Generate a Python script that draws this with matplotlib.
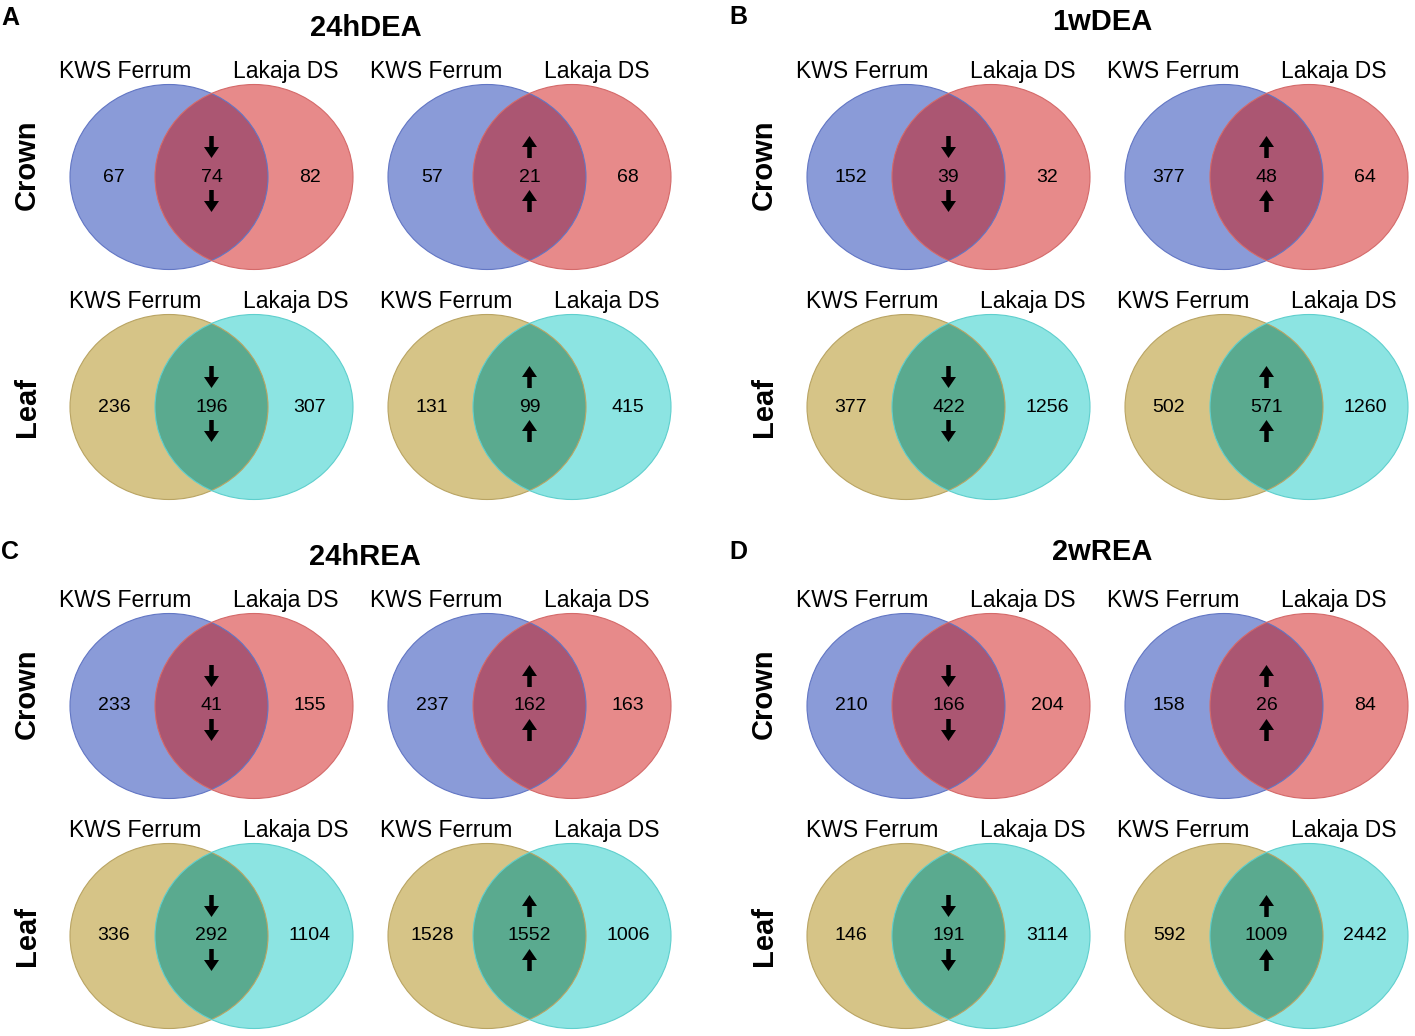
import matplotlib
matplotlib.use('Agg')
import matplotlib.pyplot as plt
from matplotlib.patches import Ellipse

plt.rcParams['font.family'] = ['Liberation Sans', 'DejaVu Sans']

# data
titles = ['24hDEA', '1wDEA', '24hREA', '2wREA']
letters = ['A', 'B', 'C', 'D']
rows = ['Crown', 'Leaf']
sets = ['KWS Ferrum', 'Lakaja DS']
# per panel: [only KWS, both, only Lakaja]
crown_down = [[67, 74, 82], [152, 39, 32], [233, 41, 155], [210, 166, 204]]
crown_up = [[57, 21, 68], [377, 48, 64], [237, 162, 163], [158, 26, 84]]
leaf_down = [[236, 196, 307], [377, 422, 1256], [336, 292, 1104], [146, 191, 3114]]
leaf_up = [[131, 99, 415], [502, 571, 1260], [1528, 1552, 1006], [592, 1009, 2442]]

# colours: left fill, right fill, overlap, left edge, right edge
crown_cols = ['#8a9bd8', '#e78a8a', '#ab5672', '#6276c4', '#d46a6a']
leaf_cols = ['#d6c487', '#8ce4e2', '#5aaa8f', '#b9a463', '#5fcfcd']

fig = plt.figure(figsize=(14.15, 10.36), dpi=100)
ax = fig.add_axes([0, 0, 1, 1])
ax.set_xlim(0, 1415)
ax.set_ylim(1036, 0)
ax.axis('off')

panel_off = [(0, 0), (737, 0), (0, 529), (737, 529)]
title_pos = [(366, 28), (1102, 22), (365, 557), (1102, 552)]
letter_pos = [(10, 18), (738, 17), (10, 552), (738, 552)]
W, H, D = 198, 185, 85


def arrow(x, y, up):
    # y is the arrow tail; head points up or down
    L = 22
    dy = -L if up else L
    ax.arrow(x, y, 0, dy, width=4.5, head_width=15, head_length=11,
             length_includes_head=True, color='black', lw=0)


def venn(cx, cy, vals, cols, up, lab_dx):
    left = Ellipse((cx, cy), W, H, facecolor=cols[0], edgecolor='none')
    right = Ellipse((cx + D, cy), W, H, facecolor=cols[1], edgecolor='none')
    ax.add_patch(left)
    ax.add_patch(right)
    ov = Ellipse((cx + D, cy), W, H, facecolor=cols[2], edgecolor='none')
    ax.add_patch(ov)
    ov.set_clip_path(left)
    ax.add_patch(Ellipse((cx, cy), W, H, facecolor='none', edgecolor=cols[3], lw=0.8))
    ax.add_patch(Ellipse((cx + D, cy), W, H, facecolor='none', edgecolor=cols[4], lw=0.8))
    mid = cx + D / 2
    ax.text(cx - 55, cy, str(vals[0]), ha='center', va='center', fontsize=14)
    ax.text(mid, cy, str(vals[1]), ha='center', va='center', fontsize=14)
    ax.text(cx + D + 56, cy, str(vals[2]), ha='center', va='center', fontsize=14)
    if up:
        arrow(mid, cy - 19, True)
        arrow(mid, cy + 35, True)
    else:
        arrow(mid, cy - 41, False)
        arrow(mid, cy + 13, False)
    ly = cy - 99
    ax.text(cx - 44 + lab_dx, ly, sets[0], ha='center', va='baseline', fontsize=16.5)
    ax.text(cx + D + 32 + lab_dx, ly, sets[1], ha='center', va='baseline', fontsize=16.5)


for i in range(4):
    ox, oy = panel_off[i]
    ax.text(*title_pos[i], titles[i], ha='center', va='center', fontsize=21, fontweight='bold')
    ax.text(*letter_pos[i], letters[i], ha='center', va='center', fontsize=18, fontweight='bold')
    ax.text(ox + 27, oy + 165, rows[0], ha='center', va='center', rotation=90,
            fontsize=21, fontweight='bold')
    ax.text(ox + 27, oy + 407, rows[1], ha='center', va='center', rotation=90,
            fontsize=21, fontweight='bold')
    venn(ox + 169, oy + 177, crown_down[i], crown_cols, False, 0)
    venn(ox + 487, oy + 177, crown_up[i], crown_cols, True, -7)
    venn(ox + 169, oy + 407, leaf_down[i], leaf_cols, False, 10)
    venn(ox + 487, oy + 407, leaf_up[i], leaf_cols, True, 3)

fig.savefig('out.png', dpi=100)
